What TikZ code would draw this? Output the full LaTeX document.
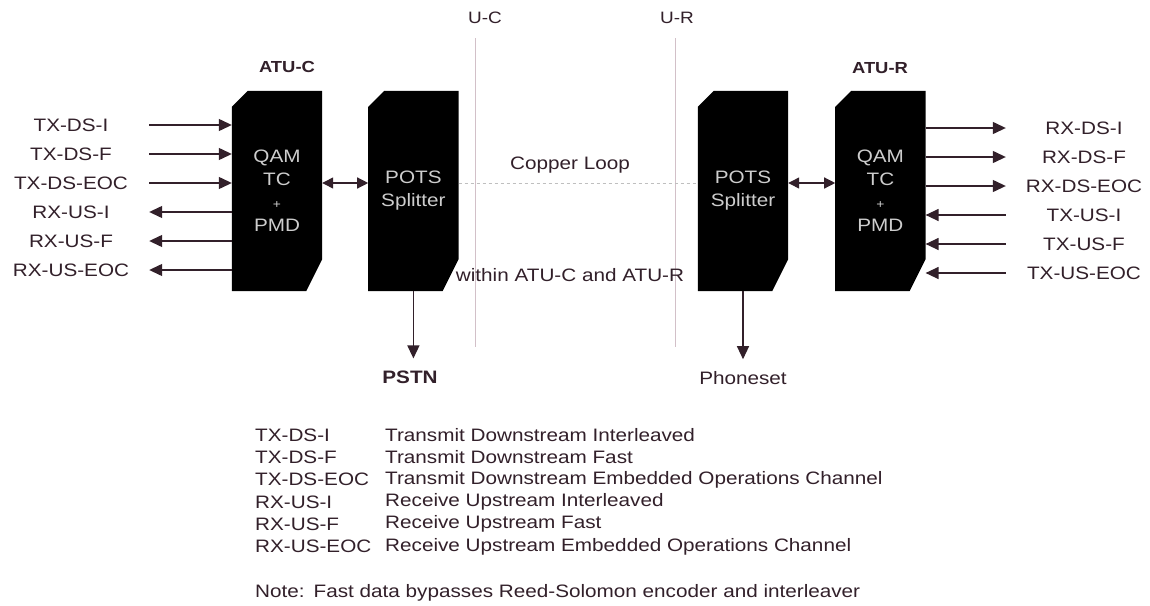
\documentclass[tikz,border=0pt]{standalone}
\usepackage{fontspec}
\setmainfont{Liberation Sans}[FakeStretch=1.15]
\usetikzlibrary{arrows.meta,backgrounds,positioning}
\definecolor{ink}{RGB}{50,32,42}
\definecolor{boxtxt}{RGB}{205,205,205}
\definecolor{guide}{RGB}{210,192,200}
\tikzset{
  blk/.style={minimum width=90pt, minimum height=200pt, inner sep=0pt, align=center,
    text=boxtxt, font=\fontsize{18}{23}\selectfont},
  lbl/.style={minimum width=156pt, inner sep=0pt, text=ink, font=\fontsize{18}{22}\selectfont},
  leg/.style={anchor=west, inner sep=0pt, text=ink, font=\fontsize{18}{22}\selectfont},
  arr/.style={line width=1.3pt, draw=ink, -{Triangle[length=13pt,width=12pt]}},
  dbl/.style={line width=1.3pt, draw=ink, {Triangle[length=11pt,width=11pt]}-{Triangle[length=11pt,width=11pt]}}
}
\begin{document}
\begin{tikzpicture}[x=1pt, y=-1pt]
  \useasboundingbox (0,0) rectangle (1150,605);
  % boxes
  \node[blk] (qamc) at (277,191) {QAM\\TC\\{\fontsize{12}{23}\selectfont +}\\PMD};
  \node[blk] (splc) [right=46pt of qamc] {POTS\\Splitter};
  \node[blk] (splr) at (743,191) {POTS\\Splitter};
  \node[blk] (qamr) [right=47pt of splr] {QAM\\TC\\{\fontsize{12}{23}\selectfont +}\\PMD};
  \begin{scope}[on background layer]
    \fill[white] (0,0) rectangle (1150,605);
    \foreach \b in {qamc,splc,splr,qamr}
    {
        \fill[black] ([yshift=-16pt]\b.north west) -- ([xshift=16pt]\b.north west)
          -- (\b.north east) -- ([yshift=32pt]\b.south east)
          -- ([xshift=-16pt]\b.south east) -- (\b.south west) -- cycle;
    }
  \end{scope}
  \node[font=\bfseries\fontsize{16}{20}\selectfont, text=ink] (atuc) at (287,67) {ATU-C};
  \node[font=\bfseries\fontsize{16}{20}\selectfont, text=ink] (atur) at (880,68) {ATU-R};
  % interfaces
  \node[font=\fontsize{16.5}{20}\selectfont, text=ink] (uc) at (485,18) {U-C};
  \node[font=\fontsize{16.5}{20}\selectfont, text=ink] (ur) at (677,18) {U-R};
  \coordinate (uctop) at (475,38);
  \coordinate (ucbot) at (475,347);
  \coordinate (urtop) at (675,38);
  \coordinate (urbot) at (675,347);
  \draw[guide, line width=1pt] (uctop) -- (ucbot);
  \draw[guide, line width=1pt] (urtop) -- (urbot);
  \draw[black!25, line width=1pt, dashed] ([yshift=8pt]splc.east) -- ([yshift=8pt]splr.west);
  \node[font=\fontsize{18}{22}\selectfont, text=ink] (loop) at (570,165) {Copper Loop};
  \node[font=\fontsize{18}{22}\selectfont, text=ink] (within) at (570,275) {within ATU-C and ATU-R};
  \draw[dbl] ([yshift=8pt]qamc.east) -- ([yshift=8pt]splc.west);
  \draw[dbl] ([yshift=8pt]splr.east) -- ([yshift=8pt]qamr.west);
  % side signals
  \foreach \t [count=\i] in {TX-DS-I,TX-DS-F,TX-DS-EOC,RX-US-I,RX-US-F,RX-US-EOC}
  {
      \node[lbl] (l\i) at (71,{96+29*\i}) {\t};
  }
  \foreach \t [count=\i] in {RX-DS-I,RX-DS-F,RX-DS-EOC,TX-US-I,TX-US-F,TX-US-EOC}
  {
      \node[lbl] (r\i) at (1084,{99+29*\i}) {\t};
  }
  \foreach \i in {1,2,3}
  {
      \draw[arr] (l\i.east) -- (l\i.east -| qamc.west);
      \draw[arr] (r\i.west -| qamr.east) -- (r\i.west);
  }
  \foreach \i in {4,5,6}
  {
      \draw[arr] (l\i.east -| qamc.west) -- (l\i.east);
      \draw[arr] (r\i.west) -- (r\i.west -| qamr.east);
  }
  % phone side
  \node[lbl, font=\bfseries\fontsize{18}{22}\selectfont] (pstn) at (410,377) {PSTN};
  \node[lbl] (phone) at (743,378) {Phoneset};
  \draw[arr, shorten >=12pt] (splc.south) -- (splc.south |- pstn.north);
  \draw[arr, shorten >=12pt] (splr.south) -- (splr.south |- phone.north);
  % legend
  \foreach \a/\b [count=\i] in {TX-DS-I/Transmit Downstream Interleaved,
      TX-DS-F/Transmit Downstream Fast,
      TX-DS-EOC/Transmit Downstream Embedded Operations Channel,
      RX-US-I/Receive Upstream Interleaved,
      RX-US-F/Receive Upstream Fast,
      RX-US-EOC/Receive Upstream Embedded Operations Channel}
  {
      \node[leg] (k\i) at (255,{412.7+22.3*\i}) {\a};
      \node[leg] (d\i) at (385,{412.7+22.3*\i}) {\b};
  }
  \node[leg] (note) at (255,593) {Note:\enspace Fast data bypasses Reed-Solomon encoder and interleaver};
\end{tikzpicture}
\end{document}
